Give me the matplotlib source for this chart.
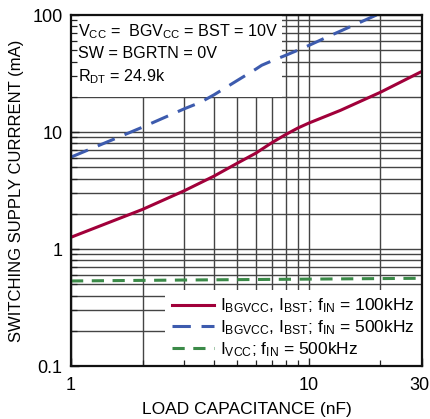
import numpy as np
import matplotlib
matplotlib.use("Agg")
import matplotlib.pyplot as plt
import matplotlib.transforms as mtransforms
from matplotlib.patches import Rectangle
from matplotlib.ticker import FixedLocator, FixedFormatter, LogLocator, NullFormatter

plt.rcParams['font.family'] = ['Liberation Sans Narrow', 'Liberation Sans', 'DejaVu Sans']
plt.rcParams['mathtext.default'] = 'regular'

# Data (load capacitance in nF, current in mA)
cap_100k = [1, 2, 3, 4, 5, 6, 7, 8, 9, 10, 13.6, 20, 30]
i_bgvcc_100k = [1.26, 2.18, 3.15, 4.2, 5.4, 6.6, 8.1, 9.5, 10.8, 11.9, 15.3, 21.8, 33.0]

cap_500k = [1, 2, 3, 3.5, 4, 5, 6, 6.35, 7, 8, 9, 10, 12, 15, 19.3, 20]
i_bgvcc_500k = [6.1, 11.0, 15.8, 17.9, 20.8, 27.5, 34.5, 37.2, 40.5, 45.2, 50.0, 54.8, 65.0, 79.6, 100.0, 103.0]

cap_vcc = [1, 3, 10, 30]
i_vcc = [0.533, 0.543, 0.553, 0.562]

x_ticks = [1, 10, 30]
x_ticklabels = ["1", "10", "30"]
y_ticks = [0.1, 1, 10, 100]
y_ticklabels = ["0.1", "1", "10", "100"]

RED = "#A1003A"
BLUE = "#3D5BAE"
GREEN = "#3B8A48"

fig = plt.figure(figsize=(4.30, 4.19), dpi=100)
pos = [71 / 430, 1 - 366 / 419, 351 / 430, 351 / 419]
ax = fig.add_axes(pos)
ax.set_xscale('log')
ax.set_yscale('log')
ax.set_xlim(1, 30)
ax.set_ylim(0.1, 100)
ax.set_axisbelow(True)
ax.grid(True, which='both', color='#444444', linewidth=1.0)

# white box behind the conditions text
ax.add_patch(Rectangle((0, 0.766), 0.601, 0.234, transform=ax.transAxes,
                       facecolor='white', edgecolor='none', zorder=1))
ax.text(0.02, 0.978,
        "V$_{CC}$ =  BGV$_{CC}$ = BST = 10V\nSW = BGRTN = 0V\nR$_{DT}$ = 24.9k",
        transform=ax.transAxes, ha='left', va='top', fontsize=11.6,
        linespacing=1.42, zorder=1.5)

ax.plot(cap_100k, i_bgvcc_100k, color=RED, linewidth=2.2,
        label="I$_{BGVCC}$, I$_{BST}$; f$_{IN}$ = 100kHz", zorder=2)
ax.plot(cap_500k, i_bgvcc_500k, color=BLUE, linewidth=2.2, dashes=(6, 3.5),
        label="I$_{BGVCC}$, I$_{BST}$; f$_{IN}$ = 500kHz", zorder=2)
ax.plot(cap_vcc, i_vcc, color=GREEN, linewidth=2.2, dashes=(4, 2.8),
        label="I$_{VCC}$; f$_{IN}$ = 500kHz", zorder=2)

leg = ax.legend(loc='lower right', fontsize=12.5, frameon=True, fancybox=False,
                facecolor='white', edgecolor='none', framealpha=1,
                borderaxespad=0, handlelength=2.4, handletextpad=0.4,
                labelspacing=0.18, borderpad=0.4)

ax.tick_params(which='both', length=0, labelsize=13)
ax.xaxis.set_major_locator(FixedLocator(x_ticks))
ax.xaxis.set_major_formatter(FixedFormatter(x_ticklabels))
ax.xaxis.set_minor_formatter(NullFormatter())
ax.yaxis.set_major_locator(FixedLocator(y_ticks))
ax.yaxis.set_major_formatter(FixedFormatter(y_ticklabels))
ax.yaxis.set_minor_formatter(NullFormatter())
ax.tick_params(axis='x', pad=8)
ax.tick_params(axis='y', pad=6)
for s in ax.spines.values():
    s.set_visible(False)

# nudge the last x label so it stays inside the figure
last = ax.get_xticklabels()[-1]
last.set_transform(last.get_transform() +
                   mtransforms.ScaledTranslation(-3 / 100, 0, fig.dpi_scale_trans))

ax.set_xlabel("LOAD CAPACITANCE (nF)", fontsize=12.5, labelpad=6)
ax.set_ylabel("SWITCHING SUPPLY CURRRENT (mA)", fontsize=12, labelpad=6)

# overlay axes: inward ticks and frame drawn above the white boxes
ax2 = fig.add_axes(pos, sharex=ax, sharey=ax, facecolor='none')
ax2.tick_params(which='both', direction='in', labelleft=False, labelbottom=False,
                color='#222222')
ax2.tick_params(which='major', length=6, width=1)
ax2.tick_params(which='minor', length=4, width=0.9)
ax2.xaxis.set_minor_locator(LogLocator(subs=np.arange(2, 10)))
ax2.yaxis.set_minor_locator(LogLocator(subs=np.arange(2, 10)))
for s in ax2.spines.values():
    s.set_linewidth(1.6)
    s.set_color('#111111')

fig.savefig("out.png", dpi=100)
